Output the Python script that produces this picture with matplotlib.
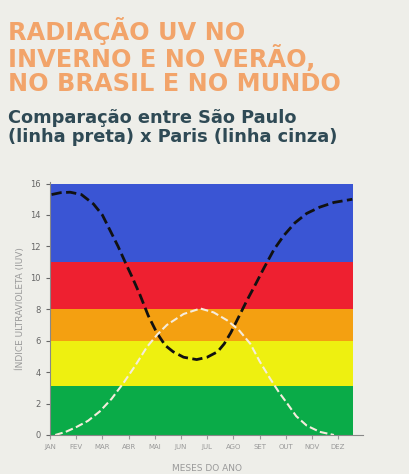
import matplotlib
matplotlib.use("Agg")
import matplotlib.pyplot as plt

MONTHS = ["JAN", "FEV", "MAR", "ABR", "MAI", "JUN", "JUL", "AGO", "SET", "OUT", "NOV", "DEZ"]
BANDS = [(0, 3.1, "#0aab48"), (3.1, 6, "#eef010"), (6, 8, "#f4a011"),
         (8, 11, "#ee2030"), (11, 16, "#3a55d4")]

sp_x = [0.06, 0.4, 0.77, 1.2, 1.66, 2.0, 2.3, 2.6, 2.87, 3.15, 3.44, 3.75, 4.08, 4.4, 4.7,
        5.1, 5.6, 6.0, 6.4, 6.65, 6.9, 7.2, 7.5, 7.85, 8.16, 8.55, 8.93, 9.35, 9.8, 10.3, 10.84, 11.54]
sp_y = [15.3, 15.42, 15.45, 15.3, 14.7, 14.0, 13.0, 12.0, 11.0, 10.0, 8.9, 7.6, 6.5, 5.7, 5.3,
        4.95, 4.8, 4.95, 5.3, 5.8, 6.5, 7.5, 8.5, 9.6, 10.6, 11.8, 12.7, 13.5, 14.1, 14.5, 14.8, 15.0]
pa_x = [0.2, 0.6, 1.0, 1.45, 1.9, 2.35, 2.8, 3.25, 3.7, 4.1, 4.46, 5.1, 5.74, 6.25, 6.76,
        7.2, 7.65, 8.0, 8.4, 8.75, 9.06, 9.4, 9.8, 10.3, 10.84]
pa_y = [0.0, 0.2, 0.5, 0.9, 1.5, 2.3, 3.3, 4.4, 5.6, 6.4, 7.0, 7.7, 8.05, 7.8, 7.3,
        6.7, 5.8, 4.7, 3.6, 2.7, 2.0, 1.2, 0.6, 0.2, 0.0]

bg = "#eeeee9"
fig = plt.figure(figsize=(4.09, 4.74), dpi=100, facecolor=bg)
fig.text(0.02, 0.965, "RADIAÇÃO UV NO\nINVERNO E NO VERÃO,\nNO BRASIL E NO MUNDO",
         color="#f2a46a", fontsize=17.3, fontweight="bold", va="top", linespacing=1.02)
fig.text(0.02, 0.77, "Comparação entre São Paulo\n(linha preta) x Paris (linha cinza)",
         color="#2f4a55", fontsize=12.8, fontweight="bold", va="top", linespacing=1.1)

ax = fig.add_axes([50 / 409, 1 - 435 / 474, 313 / 409, 253 / 474], facecolor=bg)
for lo, hi, c in BANDS:
    ax.fill_between([0, 11.55], lo, hi, color=c, lw=0)
ax.plot(sp_x, sp_y, "--", color="#111111", lw=2)
ax.plot(pa_x, pa_y, "--", color="#f5ecdc", lw=1.5)
ax.set_xlim(0, 11.55 + 0.4)
ax.set_ylim(0, 16.1)
ax.set_xticks(range(12))
ax.set_xticklabels(MONTHS, fontsize=5, color="#aaaaaa")
ax.set_yticks(range(0, 17, 2))
ax.tick_params(axis="y", labelsize=6, colors="#666666", length=3)
ax.tick_params(axis="x", length=3, colors="#999999")
for s in ["top", "right"]:
    ax.spines[s].set_visible(False)
for s in ["left", "bottom"]:
    ax.spines[s].set_color("#888888")
ax.set_ylabel("ÍNDICE ULTRAVIOLETA (IUV)", fontsize=6.5, color="#999999")
ax.set_xlabel("MESES DO ANO", fontsize=6.5, color="#999999", labelpad=10)
fig.savefig("out.png", dpi=100, facecolor=bg)
